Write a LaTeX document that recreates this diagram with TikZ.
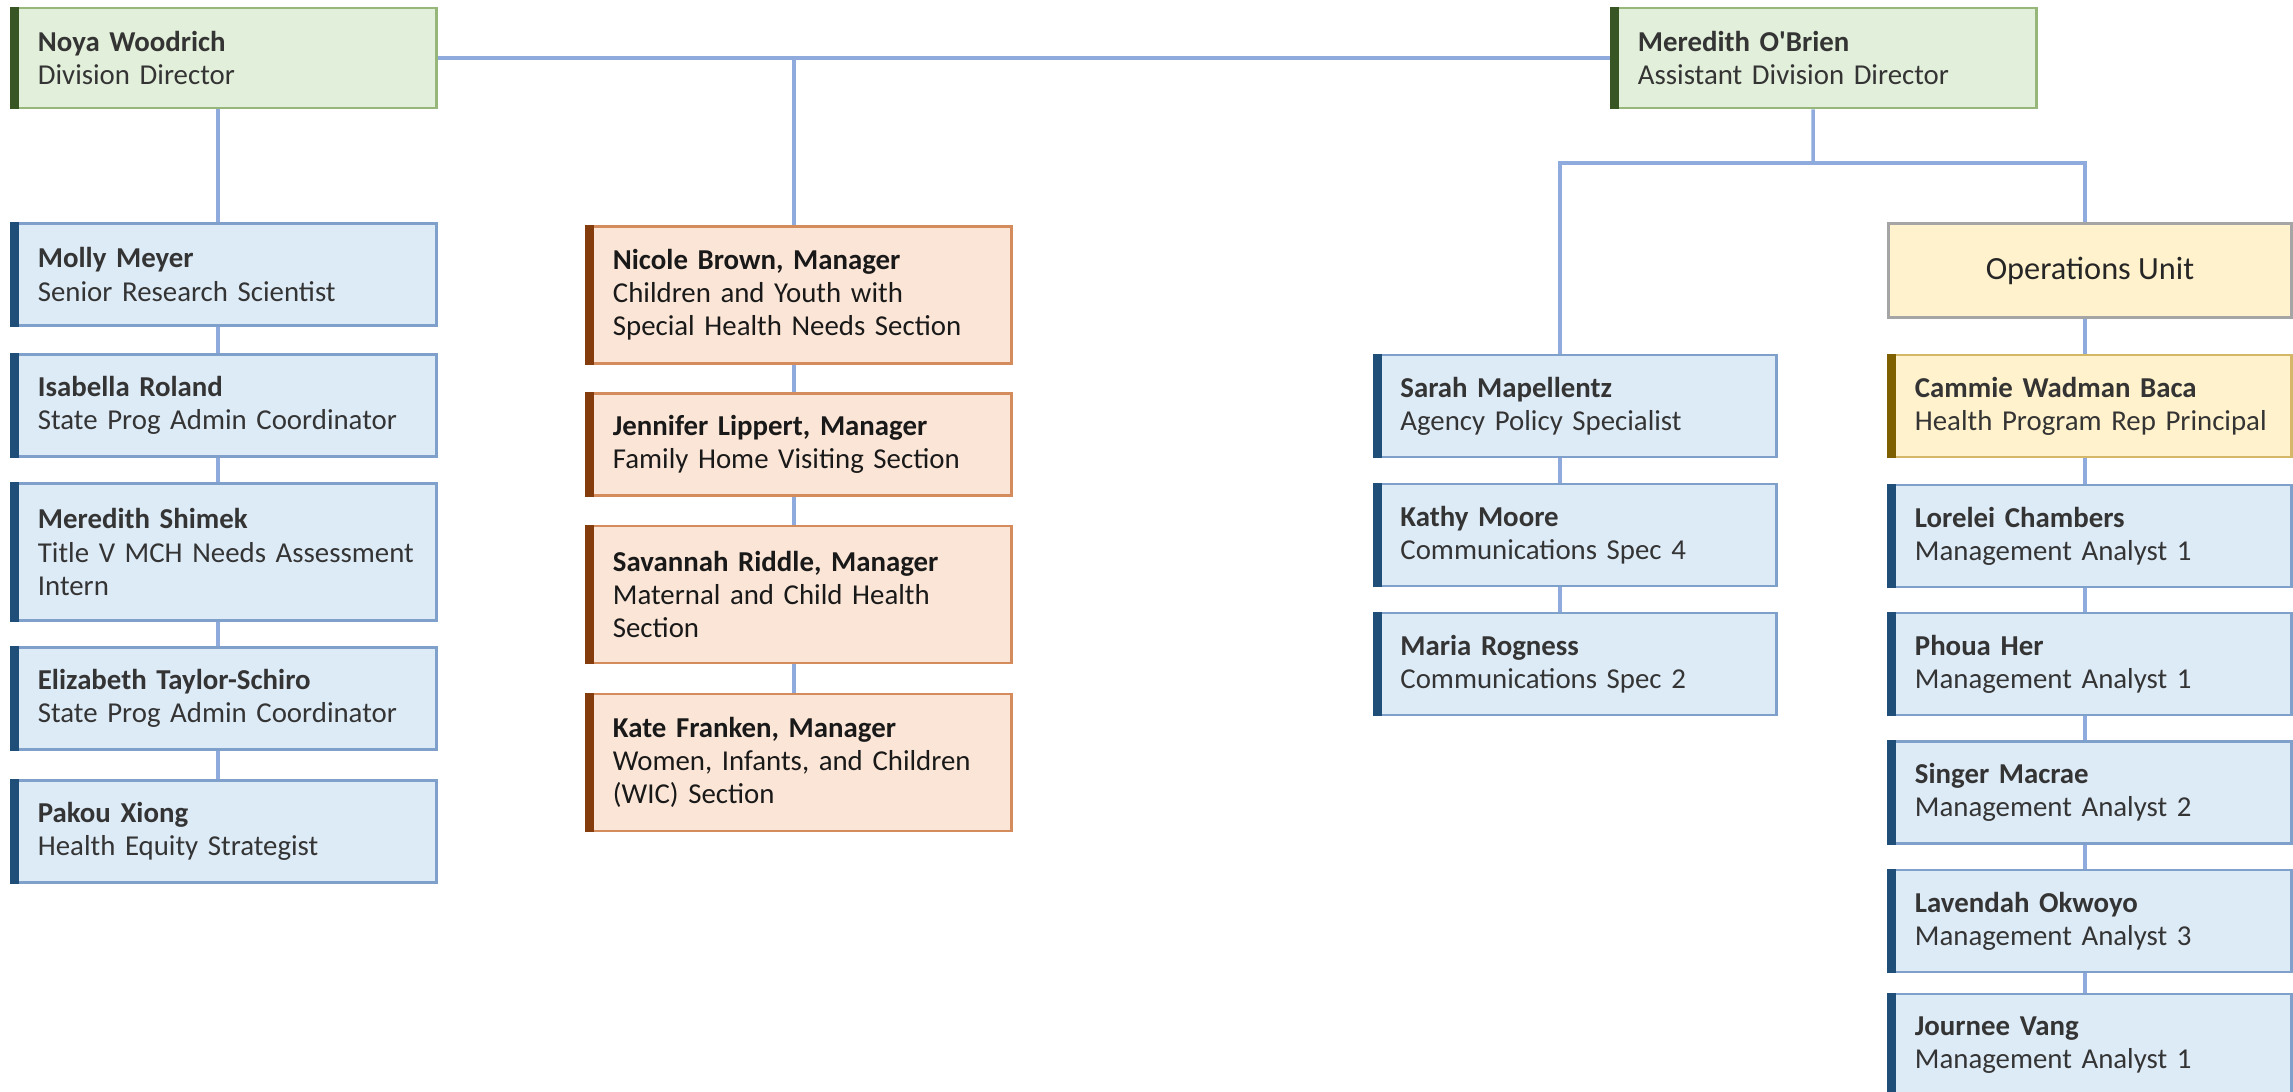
\documentclass[tikz,border=0pt]{standalone}
\usepackage{fontspec}
\setmainfont{Carlito}
\usetikzlibrary{positioning}
\definecolor{leadfill}{RGB}{226,239,218}
\definecolor{leadline}{RGB}{150,182,122}
\definecolor{leadbar}{RGB}{55,86,35}
\definecolor{stafffill}{RGB}{221,235,247}
\definecolor{staffline}{RGB}{128,160,204}
\definecolor{staffbar}{RGB}{31,78,121}
\definecolor{secfill}{RGB}{251,229,214}
\definecolor{secline}{RGB}{212,140,92}
\definecolor{secbar}{RGB}{132,60,12}
\definecolor{opsfill}{RGB}{255,242,204}
\definecolor{opsline}{RGB}{212,184,104}
\definecolor{opsbar}{RGB}{127,96,0}
\definecolor{unitline}{RGB}{165,165,165}
\definecolor{linkblue}{RGB}{143,170,220}
\definecolor{textgrey}{RGB}{52,52,52}

\begin{document}
\begin{tikzpicture}[x=0.01cm, y=-0.01cm,
    card/.style={draw, line width=0.8pt, inner xsep=0.26cm, inner ysep=0pt, align=left,
      font=\fontsize{8.2}{9.4}\selectfont, text=textgrey},
    wide/.style={minimum width=4.24cm, text width=3.72cm},
    slim/.style={minimum width=4.02cm, text width=3.50cm},
    twoline/.style={minimum height=1.02cm},
    threeline/.style={minimum height=1.37cm},
    bar/.style={append after command={([xshift=0.045cm]\tikzlastnode.south west)
      edge[draw=#1, line width=0.09cm] ([xshift=0.045cm]\tikzlastnode.north west)}},
    lead/.style={card, wide, fill=leadfill, draw=leadline, bar=leadbar, minimum height=1.0cm},
    staff/.style={card, fill=stafffill, draw=staffline, bar=staffbar, twoline},
    sectionbox/.style={card, wide, fill=secfill, draw=secline, bar=secbar, text=black!90},
    opsbox/.style={card, slim, fill=opsfill, draw=opsline, bar=opsbar, twoline},
    unitbox/.style={draw=unitline, fill=opsfill, line width=0.8pt, minimum width=4.02cm,
      minimum height=0.94cm, font=\fontsize{9.2}{11}\selectfont, text=black!85},
    link/.style={draw=linkblue, line width=1pt}
  ]
  \useasboundingbox (0,0) rectangle (2293,1092);

  % directors
  \node[lead] (noya) at (224,58) {\textbf{Noya Woodrich}\\Division Director};
  \node[lead] (obrien) at (1824,58) {\textbf{Meredith O\textquotesingle Brien}\\Assistant Division Director};

  % left column
  \node[staff, wide] (molly) at (224,274.5) {\textbf{Molly Meyer}\\Senior Research Scientist};
  \node[staff, wide] (isabella) at (224,405.5) {\textbf{Isabella Roland}\\State Prog Admin Coordinator};
  \node[staff, wide, threeline] (shimek) at (224,552) {\textbf{Meredith Shimek}\\\mbox{Title V MCH Needs Assessment}\\Intern};
  \node[staff, wide] (elizabeth) at (224,698.5) {\textbf{Elizabeth Taylor-Schiro}\\State Prog Admin Coordinator};
  \node[staff, wide] (pakou) at (224,831.5) {\textbf{Pakou Xiong}\\Health Equity Strategist};

  % sections
  \node[sectionbox, threeline] (nicole) at (799,295) {\textbf{Nicole Brown, Manager}\\Children and Youth with\\Special Health Needs Section};
  \node[sectionbox, twoline] (jennifer) at (799,444.5) {\textbf{Jennifer Lippert, Manager}\\Family Home Visiting Section};
  \node[sectionbox, threeline] (savannah) at (799,594.5) {\textbf{Savannah Riddle, Manager}\\Maternal and Child Health\\Section};
  \node[sectionbox, threeline] (kate) at (799,762.5) {\textbf{Kate Franken, Manager}\\Women, Infants, and Children\\(WIC) Section};

  % policy and communications
  \node[staff, slim] (sarah) at (1575.5,406) {\textbf{Sarah Mapellentz}\\Agency Policy Specialist};
  \node[staff, slim] (kathy) at (1575.5,535) {\textbf{Kathy Moore}\\Communications Spec 4};
  \node[staff, slim] (maria) at (1575.5,664) {\textbf{Maria Rogness}\\Communications Spec 2};

  % operations unit
  \node[unitbox] (ops) at (2090,270.5) {Operations Unit};
  \node[opsbox] (cammie) at (2090,406) {\textbf{Cammie Wadman Baca}\\\mbox{Health Program Rep Principal}};
  \node[staff, slim] (lorelei) at (2090,536) {\textbf{Lorelei Chambers}\\Management Analyst 1};
  \node[staff, slim] (phoua) at (2090,664) {\textbf{Phoua Her}\\Management Analyst 1};
  \node[staff, slim] (singer) at (2090,792.5) {\textbf{Singer Macrae}\\Management Analyst 2};
  \node[staff, slim] (lavendah) at (2090,921) {\textbf{Lavendah Okwoyo}\\Management Analyst 3};
  \node[staff, slim] (journee) at (2090,1045) {\textbf{Journee Vang}\\Management Analyst 1};

  % reporting lines
  \draw[link] (noya.east) -- (obrien.west);
  \draw[link] ([xshift=-0.05cm]nicole.north) -- ([xshift=-0.05cm]nicole.north |- noya.east);
  \foreach \a/\b in {noya/molly, molly/isabella, isabella/shimek, shimek/elizabeth, elizabeth/pakou}
    \draw[link] ([xshift=-0.06cm]\a.south) -- ([xshift=-0.06cm]\b.north);
  \foreach \a/\b in {nicole/jennifer, jennifer/savannah, savannah/kate}
    \draw[link] ([xshift=-0.05cm]\a.south) -- ([xshift=-0.05cm]\b.north);
  \foreach \a/\b in {sarah/kathy, kathy/maria}
    \draw[link] ([xshift=-0.155cm]\a.south) -- ([xshift=-0.155cm]\b.north);
  \foreach \a/\b in {ops/cammie, cammie/lorelei, lorelei/phoua, phoua/singer, singer/lavendah, lavendah/journee}
    \draw[link] ([xshift=-0.05cm]\a.south) -- ([xshift=-0.05cm]\b.north);

  \coordinate (fork) at (1813,163);
  \draw[link] ([xshift=-0.11cm]obrien.south) -- (fork);
  \draw[link] ([xshift=-0.155cm]sarah.north) |- (fork);
  \draw[link] ([xshift=-0.05cm]ops.north) |- (fork);
\end{tikzpicture}
\end{document}
